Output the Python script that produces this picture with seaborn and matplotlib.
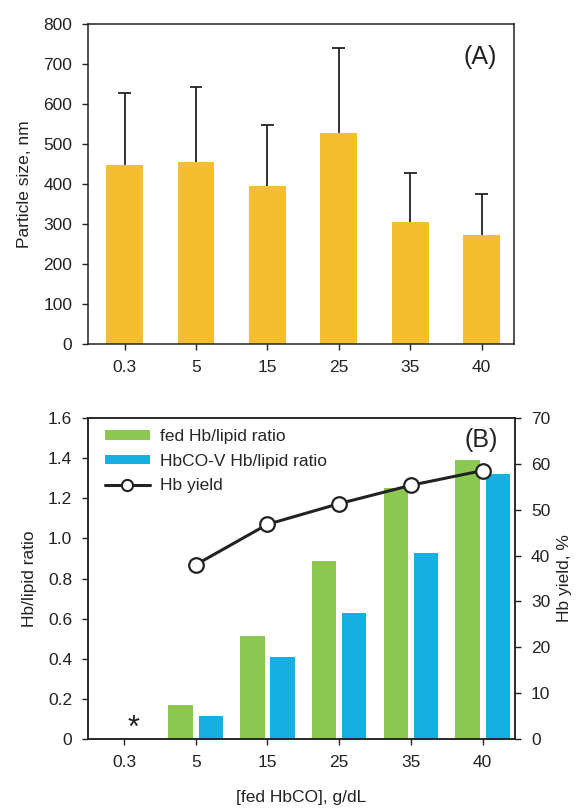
import numpy as np
import pandas as pd
import matplotlib
matplotlib.use("Agg")
import matplotlib.pyplot as plt
from matplotlib.patches import Patch
from matplotlib.lines import Line2D
import seaborn as sns

# ---- data -------------------------------------------------------------
categories = ["0.3", "5", "15", "25", "35", "40"]

# (A) particle size, nm (mean and upper SD)
size_mean = [448, 455, 396, 528, 306, 274]
size_sd = [180, 188, 151, 213, 121, 102]

# (B) Hb/lipid ratios (not determined at 0.3 g/dL)
fed_ratio = [np.nan, 0.17, 0.513, 0.887, 1.25, 1.39]
vesicle_ratio = [np.nan, 0.118, 0.409, 0.628, 0.926, 1.32]
hb_yield = [np.nan, 38.0, 46.8, 51.3, 55.3, 58.5]

size_ticks = list(range(0, 801, 100))
ratio_ticks = [0, 0.2, 0.4, 0.6, 0.8, 1.0, 1.2, 1.4, 1.6]
ratio_ticklabels = ["0", "0.2", "0.4", "0.6", "0.8", "1.0", "1.2", "1.4", "1.6"]
yield_ticks = list(range(0, 71, 10))

# ---- style ------------------------------------------------------------
sns.set_theme(style="ticks")
plt.rcParams["font.family"] = ["Liberation Sans", "DejaVu Sans"]
FS = 12.5
plt.rcParams["font.size"] = FS

gold = "#F6BD2F"
green = "#8CC751"
blue = "#17AEE2"
ink = "#222222"

fig = plt.figure(figsize=(5.76, 8.08), dpi=100)
ax1 = fig.add_axes([0.153, 0.574, 0.740, 0.396])
ax2 = fig.add_axes([0.153, 0.085, 0.741, 0.398])


def style_axis(ax):
    for s in ax.spines.values():
        s.set_linewidth(1.1)
        s.set_color(ink)
    ax.tick_params(direction="out", length=4.5, width=1.0, color=ink,
                   labelsize=FS, labelcolor=ink, pad=7)


# ---- (A) particle size -------------------------------------------------
dfA = pd.DataFrame({"conc": categories, "size": size_mean})
sns.barplot(data=dfA, x="conc", y="size", order=categories, color=gold,
            saturation=1, width=0.515, errorbar=None, ax=ax1, zorder=2)
for p in ax1.patches:
    p.set_edgecolor("none")
xpos = np.arange(len(categories))
tops = np.array(size_mean) + np.array(size_sd)
# upper-only error bars: stem from the bar top plus a cap
ax1.vlines(xpos, size_mean, tops, color=ink, lw=1.3, zorder=1)
ax1.hlines(tops, xpos - 0.09, xpos + 0.09, color=ink, lw=1.3, zorder=1)
ax1.set_ylim(0, 800)
ax1.set_yticks(size_ticks)
ax1.set_xlim(-0.51, 5.46)
ax1.set_xlabel("")
ax1.set_ylabel("Particle size, nm", fontsize=FS, color=ink, labelpad=8)
ax1.text(0.92, 0.897, "(A)", transform=ax1.transAxes, fontsize=18,
         color=ink, ha="center", va="center")
style_axis(ax1)
ax1.tick_params(top=False, right=False)

# ---- (B) Hb/lipid ratio and Hb yield -----------------------------------
dfB = pd.DataFrame({
    "conc": categories * 2,
    "ratio": fed_ratio + vesicle_ratio,
    "kind": ["fed Hb/lipid ratio"] * len(categories)
            + ["HbCO-V Hb/lipid ratio"] * len(categories),
})
sns.barplot(data=dfB, x="conc", y="ratio", hue="kind", order=categories,
            hue_order=["fed Hb/lipid ratio", "HbCO-V Hb/lipid ratio"],
            palette=[green, blue], saturation=1, width=0.84, gap=0.19,
            errorbar=None, legend=False, ax=ax2)
for p in ax2.patches:
    p.set_edgecolor("none")
ax2.set_ylim(0, 1.6)
ax2.set_yticks(ratio_ticks)
ax2.set_yticklabels(ratio_ticklabels)
ax2.set_xlim(-0.5, 5.45)
ax2.set_xlabel("[fed HbCO], g/dL", fontsize=FS, color=ink, labelpad=14)
ax2.set_ylabel("Hb/lipid ratio", fontsize=FS, color=ink, labelpad=8)
ax2.text(0.13, 0.05, "*", fontsize=22, color=ink, ha="center",
         va="center")
ax2.text(0.92, 0.93, "(B)", transform=ax2.transAxes, fontsize=18,
         color=ink, ha="center", va="center")
style_axis(ax2)

ax3 = ax2.twinx()
dfY = pd.DataFrame({"conc": categories, "yield": hb_yield})
sns.pointplot(data=dfY, x="conc", y="yield", order=categories, color=ink,
              markers="o", linestyles="-", errorbar=None,
              markersize=10.5, markerfacecolor="white", markeredgecolor=ink,
              markeredgewidth=1.6, linewidth=2.2, ax=ax3)
ax3.set_ylim(0, 70)
ax3.set_yticks(yield_ticks)
ax3.set_xlim(-0.5, 5.45)
ax3.set_ylabel("Hb yield, %", fontsize=FS, color=ink, labelpad=5)
style_axis(ax3)

handles = [
    Patch(facecolor=green, edgecolor="none", label="fed Hb/lipid ratio"),
    Patch(facecolor=blue, edgecolor="none", label="HbCO-V Hb/lipid ratio"),
    Line2D([0], [0], color=ink, lw=2.2, marker="o", markersize=8,
           markerfacecolor="white", markeredgecolor=ink,
           markeredgewidth=1.5, label="Hb yield"),
]
ax3.legend(handles=handles, loc="upper left", bbox_to_anchor=(0.012, 1.0),
           frameon=False, fontsize=FS, handlelength=2.6, handleheight=0.45,
           handletextpad=0.6, labelspacing=0.55, borderaxespad=0.25)

fig.savefig("out.png", dpi=100)
